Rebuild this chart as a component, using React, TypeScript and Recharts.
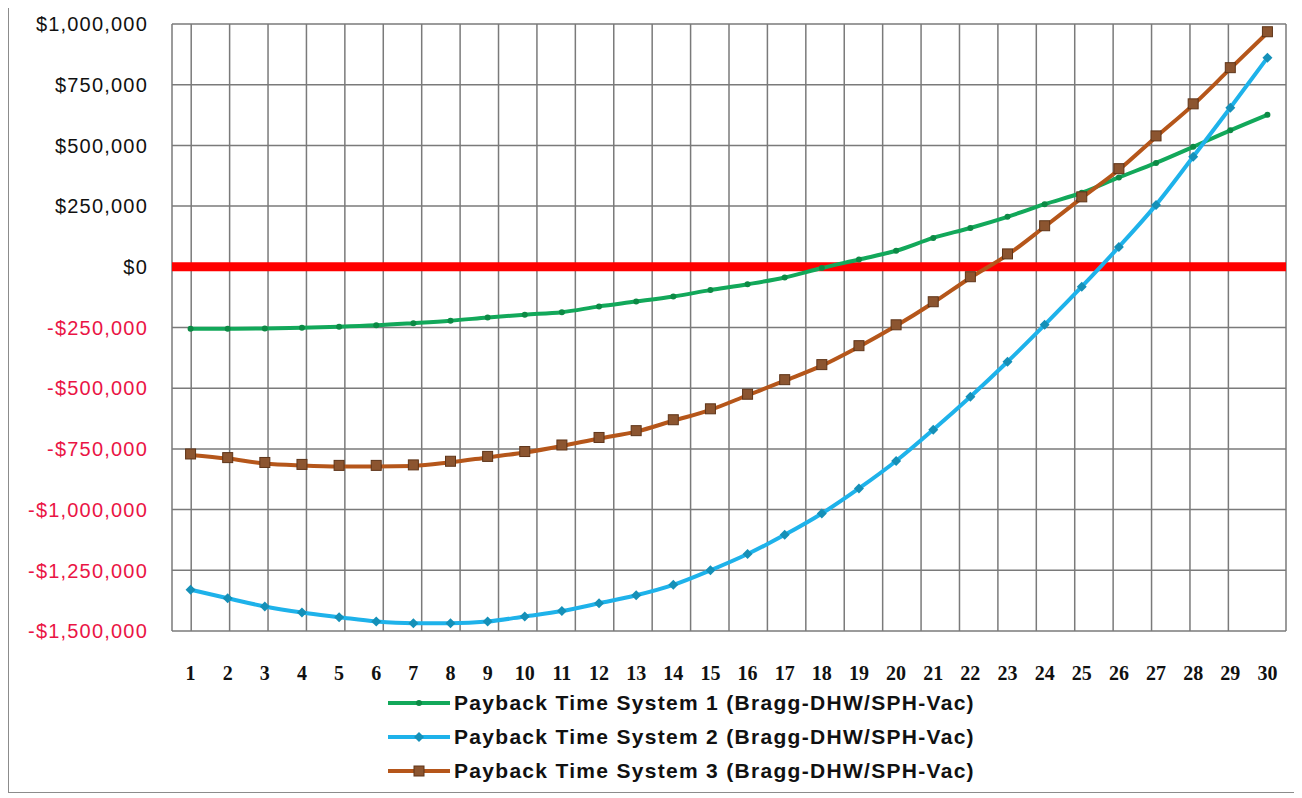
import React from 'react';
import { LineChart, Line, XAxis, YAxis, CartesianGrid, ReferenceLine, Legend } from 'recharts';

const years = [1, 2, 3, 4, 5, 6, 7, 8, 9, 10, 11, 12, 13, 14, 15, 16, 17, 18, 19, 20, 21, 22, 23, 24, 25, 26, 27, 28, 29, 30];

const system1 = [-255000, -255000, -254000, -251000, -247000, -241000, -232000, -222000, -209000, -197000, -187000, -163000, -143000, -122000, -96000, -72000, -44000, -5000, 30000, 66000, 119000, 160000, 206000, 258000, 305000, 368000, 428000, 494000, 562000, 626000];

const system2 = [-1330000, -1365000, -1399000, -1424000, -1443000, -1461000, -1468000, -1468000, -1461000, -1440000, -1418000, -1386000, -1353000, -1310000, -1250000, -1183000, -1104000, -1016000, -913000, -800000, -671000, -535000, -391000, -239000, -82000, 82000, 255000, 453000, 655000, 861000];

const system3 = [-775000, -790000, -810000, -818000, -822000, -822000, -820000, -805000, -785000, -765000, -738000, -707000, -679000, -634000, -589000, -529000, -469000, -407000, -329000, -243000, -148000, -45000, 49000, 165000, 284000, 400000, 535000, 667000, 816000, 964000];

const yTicks = [-1500000, -1250000, -1000000, -750000, -500000, -250000, 0, 250000, 500000, 750000, 1000000];

// boundaries between the year categories (for the vertical grid lines)
const gridXTicks = [0.5, 1.5, 2.5, 3.5, 4.5, 5.5, 6.5, 7.5, 8.5, 9.5, 10.5, 11.5, 12.5, 13.5, 14.5, 15.5, 16.5, 17.5, 18.5, 19.5, 20.5, 21.5, 22.5, 23.5, 24.5, 25.5, 26.5, 27.5, 28.5, 29.5, 30.5];

const seriesNames = [
  'Payback Time System 1 (Bragg-DHW/SPH-Vac)',
  'Payback Time System 2 (Bragg-DHW/SPH-Vac)',
  'Payback Time System 3 (Bragg-DHW/SPH-Vac)',
];

const data = years.map((year, i) => ({
  year,
  s1: system1[i],
  s2: system2[i],
  s3: system3[i],
}));

const GREEN = '#12a85a';
const GREEN_DOT = '#0c8a45';
const BLUE = '#1eb2ea';
const BLUE_DOT = '#1590b8';
const BROWN = '#b5561a';
const BROWN_DOT = '#8c5530';
const NEG_RED = '#ea1445';

const fmtMoney = (v: number) => {
  const abs = Math.abs(v).toLocaleString('en-US');
  return v < 0 ? `-$${abs}` : `$${abs}`;
};

const YTick = (props: any) => {
  const { x, y, payload } = props;
  const v = payload.value as number;
  return (
    <text
      x={x}
      y={y}
      dy="0.36em"
      textAnchor="end"
      fill={v < 0 ? NEG_RED : '#111'}
      fontFamily="'Liberation Sans', Arial, sans-serif"
      fontSize={20}
      letterSpacing={1.2}
    >
      {fmtMoney(v)}
    </text>
  );
};

const XTick = (props: any) => {
  const { x, y, payload } = props;
  return (
    <text
      x={x}
      y={y}
      dy="0.71em"
      textAnchor="middle"
      fill="#111"
      fontFamily="'Liberation Serif', 'Times New Roman', serif"
      fontWeight="bold"
      fontSize={20}
    >
      {payload.value}
    </text>
  );
};

const Dot1 = (props: any) => {
  const { cx, cy } = props;
  if (cx == null || cy == null) return null;
  return <circle cx={cx} cy={cy} r={3} fill={GREEN_DOT} />;
};

const Dot2 = (props: any) => {
  const { cx, cy } = props;
  if (cx == null || cy == null) return null;
  const s = 5;
  return <polygon points={`${cx},${cy - s} ${cx + s},${cy} ${cx},${cy + s} ${cx - s},${cy}`} fill={BLUE_DOT} />;
};

const Dot3 = (props: any) => {
  const { cx, cy } = props;
  if (cx == null || cy == null) return null;
  return <rect x={cx - 5} y={cy - 6} width={10} height={10} fill={BROWN_DOT} stroke="#5e3418" strokeWidth={1} />;
};

const legendItems = [
  { name: seriesNames[0], color: GREEN, marker: 'dot', markerColor: GREEN_DOT },
  { name: seriesNames[1], color: BLUE, marker: 'diamond', markerColor: BLUE_DOT },
  { name: seriesNames[2], color: BROWN, marker: 'square', markerColor: BROWN_DOT },
];

const renderLegend = () => (
  <div style={{ display: 'flex', flexDirection: 'column', alignItems: 'flex-start', marginLeft: 379 }}>
    {legendItems.map((it) => (
      <div key={it.name} style={{ display: 'flex', alignItems: 'center', height: 34 }}>
        <svg width={62} height={20} style={{ marginRight: 4 }}>
          <line x1={0} y1={10} x2={62} y2={10} stroke={it.color} strokeWidth={4} />
          {it.marker === 'dot' && <circle cx={31} cy={10} r={3} fill={it.markerColor} />}
          {it.marker === 'diamond' && <polygon points="31,5 36,10 31,15 26,10" fill={it.markerColor} />}
          {it.marker === 'square' && <rect x={26} y={5} width={10} height={10} fill={it.markerColor} stroke="#5e3418" />}
        </svg>
        <span
          style={{
            fontFamily: "'Liberation Sans', Arial, sans-serif",
            fontWeight: 'bold',
            fontSize: 21,
            letterSpacing: 1.3,
            color: '#111',
            whiteSpace: 'nowrap',
          }}
        >
          {it.name}
        </span>
      </div>
    ))}
  </div>
);

export default function App() {
  return (
    <div
      style={{
        position: 'relative',
        width: 1290,
        height: 785,
        border: '1px solid #8c8c8c',
        marginTop: -2,
        background: '#fff',
      }}
    >
      <LineChart width={1290} height={785} data={data} margin={{ top: 17, right: 13, bottom: 121, left: 0 }}>
        <XAxis
          xAxisId="grid"
          type="number"
          domain={[0.5, 30.5]}
          ticks={gridXTicks}
          allowDataOverflow
          hide
        />
        <CartesianGrid xAxisId="grid" stroke="#7a7a7a" strokeWidth={1.5} />
        <XAxis
          dataKey="year"
          type="number"
          domain={[0.5, 30.5]}
          ticks={years}
          interval={0}
          allowDataOverflow
          axisLine={false}
          tickLine={false}
          tickSize={0}
          tickMargin={35}
          height={40}
          tick={<XTick />}
        />
        <YAxis
          domain={[-1500000, 1000000]}
          ticks={yTicks}
          interval={0}
          allowDataOverflow
          width={163}
          axisLine={false}
          tickLine={false}
          tickSize={0}
          tickMargin={24}
          tick={<YTick />}
        />
        <ReferenceLine y={0} stroke="#ff0000" strokeWidth={9} />
        <Line
          type="monotone"
          dataKey="s1"
          name={seriesNames[0]}
          stroke={GREEN}
          strokeWidth={4}
          dot={<Dot1 />}
          activeDot={false}
          isAnimationActive={false}
        />
        <Line
          type="monotone"
          dataKey="s2"
          name={seriesNames[1]}
          stroke={BLUE}
          strokeWidth={4}
          dot={<Dot2 />}
          activeDot={false}
          isAnimationActive={false}
        />
        <Line
          type="monotone"
          dataKey="s3"
          name={seriesNames[2]}
          stroke={BROWN}
          strokeWidth={4}
          dot={<Dot3 />}
          activeDot={false}
          isAnimationActive={false}
        />
        <Legend
          layout="horizontal"
          align="center"
          verticalAlign="middle"
          content={renderLegend}
          wrapperStyle={{ top: 679, left: 0, width: 1290 }}
        />
      </LineChart>
    </div>
  );
}
